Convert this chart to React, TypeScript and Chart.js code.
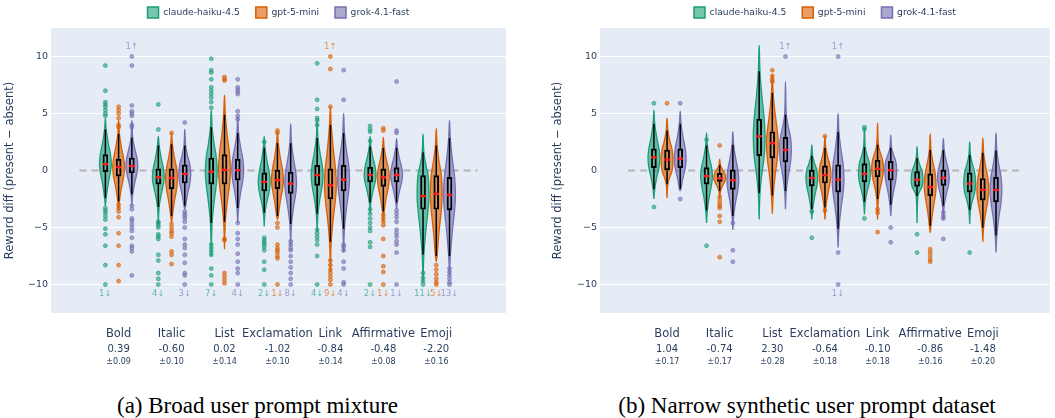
import React, { useEffect, useRef } from 'react';
import { Chart, registerables } from 'chart.js';

Chart.register(...registerables);
Chart.defaults.font.family = '"DejaVu Sans", sans-serif';

// ---------- data ----------
const categories = ['Bold', 'Italic', 'List', 'Exclamation', 'Link', 'Affirmative', 'Emoji'];
const models = ['claude-haiku-4.5', 'gpt-5-mini', 'grok-4.1-fast'];
const modelRGB = ['27,158,119', '217,95,2', '117,112,179'];
const yTicks = [-10, -5, 0, 5, 10];

const broadEffect = [0.39, -0.6, 0.02, -1.02, -0.84, -0.48, -2.2];
const broadSE = [0.09, 0.1, 0.14, 0.1, 0.14, 0.08, 0.16];
const narrowEffect = [1.04, -0.74, 2.3, -0.64, -0.1, -0.86, -1.48];
const narrowSE = [0.17, 0.17, 0.28, 0.18, 0.18, 0.16, 0.2];

// per category: [violin low, whisker low, q1, mean, q3, whisker high, violin high]
const broadClaude = [
  [-3.1, -2.4, -0.1, 0.55, 1.4, 3.6, 4.6],
  [-4.6, -3.2, -1.2, -0.6, 0.15, 2.2, 3.0],
  [-7.5, -4.6, -1.2, -0.1, 1.1, 3.8, 5.3],
  [-4.9, -3.7, -1.8, -1.0, -0.2, 2.0, 3.0],
  [-5.4, -3.8, -1.3, -0.4, 0.45, 2.85, 4.4],
  [-3.8, -2.8, -1.0, -0.4, 0.3, 2.1, 3.0],
  [-9.8, -7.4, -3.4, -2.25, -0.45, 1.6, 3.2],
];
const broadGpt = [
  [-3.5, -2.7, -0.5, 0.3, 1.0, 3.2, 4.4],
  [-4.6, -4.0, -1.6, -0.65, 0.15, 2.3, 3.3],
  [-6.9, -4.5, -1.2, 0.05, 1.4, 4.9, 6.6],
  [-4.3, -4.0, -1.6, -0.85, 0.03, 2.4, 3.4],
  [-8.9, -6.25, -2.5, -1.3, 0.15, 4.0, 5.55],
  [-4.5, -3.6, -1.4, -0.6, 0.15, 2.0, 2.9],
  [-8.0, -7.5, -3.4, -2.05, -0.45, 2.2, 3.7],
];
const broadGrok = [
  [-3.1, -2.1, -0.2, 0.4, 1.1, 2.9, 4.4],
  [-3.4, -3.1, -1.1, -0.3, 0.5, 2.2, 3.6],
  [-4.6, -3.3, -0.85, 0.03, 1.0, 3.3, 4.7],
  [-6.6, -4.7, -2.0, -1.15, -0.15, 2.4, 4.1],
  [-7.2, -5.1, -1.8, -0.8, 0.45, 3.3, 5.0],
  [-3.4, -2.8, -1.0, -0.4, 0.25, 2.0, 2.8],
  [-9.2, -7.5, -3.45, -2.15, -0.6, 2.85, 4.4],
];
const narrowClaude = [
  [-2.5, -1.65, 0.25, 1.15, 1.9, 4.1, 5.3],
  [-4.6, -3.5, -1.2, -0.5, 0.25, 2.2, 3.3],
  [-4.3, -2.0, 1.3, 3.0, 4.5, 8.7, 11.0],
  [-4.3, -3.4, -1.35, -0.65, 0.03, 1.3, 2.25],
  [-3.85, -2.75, -1.0, -0.3, 0.6, 2.05, 3.7],
  [-4.6, -2.25, -1.4, -0.8, -0.1, 1.1, 2.1],
  [-4.7, -3.45, -1.9, -1.15, -0.2, 1.35, 2.5],
];
const narrowGpt = [
  [-2.4, -1.2, 0.0, 0.95, 1.8, 3.5, 4.6],
  [-2.5, -1.8, -0.95, -0.7, -0.25, 0.45, 1.0],
  [-3.8, -2.2, 1.1, 2.4, 3.4, 6.8, 8.4],
  [-4.3, -3.25, -1.1, -0.4, 0.4, 2.0, 3.0],
  [-4.3, -2.5, -0.55, 0.15, 0.9, 2.25, 4.15],
  [-5.45, -4.85, -2.2, -1.45, -0.3, 1.8, 3.2],
  [-6.25, -5.0, -2.6, -1.7, -0.7, 1.55, 2.85],
];
const narrowGrok = [
  [-1.8, -1.6, 0.25, 1.05, 1.9, 4.1, 5.2],
  [-5.2, -4.0, -1.65, -0.85, 0.05, 2.25, 3.4],
  [-3.4, -1.8, 0.75, 1.8, 2.9, 4.9, 7.8],
  [-6.75, -5.1, -1.9, -0.8, 0.5, 3.4, 5.0],
  [-4.0, -3.0, -0.85, 0.03, 0.8, 2.0, 3.1],
  [-4.3, -3.1, -1.3, -0.65, 0.03, 1.8, 2.8],
  [-7.2, -5.7, -2.75, -1.7, -0.6, 1.75, 3.3],
];

// outlier points per category
const broadClaudeOut = [
  [9.2, 7.0, 6.0, 5.8, 5.6, 5.3, 5.0, 4.8, -3.3, -3.5, -3.7, -4.0, -4.3, -5.1, -5.6, -6.6, -8.3, -10],
  [5.8, 3.6, -4.5, -4.6, -4.8, -5.0, -5.6, -5.8, -6.0, -7.4, -7.9, -9.0, -9.5, -10],
  [9.8, 8.8, 8.6, 8.0, 7.3, 7.0, 6.7, 6.4, 6.0, 5.5, -6.5, -6.8, -7.1, -7.4, -8.6, -9.2, -10],
  [2.5, -5.9, -6.1, -6.3, -6.5, -6.7, -7.0, -8.0, -8.7, -10],
  [9.4, 6.2, 5.4, 4.6, 4.4, 4.0, -5.2, -5.5, -5.8, -6.1, -6.5, -7.5, -10],
  [3.9, 3.6, 3.4, 2.6, -3.4, -3.8, -4.2, -4.6, -5.0, -5.3, -6.3, -6.7, -10],
  [-9.0, -9.4, -9.7, -10],
];
const broadGptOut = [
  [5.6, 5.3, 5.0, 4.6, 4.0, 3.8, -3.0, -3.3, -3.6, -4.1, -5.5, -6.6, -8.3, -9.7],
  [3.3, -4.7, -5.0, -5.3, -5.5, -5.8, -7.1, -7.4, -8.2],
  [8.2, 8.0, 7.9, -6.0, -6.1, -9.0, -9.3, -9.6, -9.9],
  [3.5, 3.3, -4.6, -5.0, -6.5, -6.8, -7.0, -7.2, -7.5, -7.7, -10],
  [10, 8.9, 5.6, -7.9, -8.3, -8.7, -9.0, -9.3, -9.6, -10],
  [3.7, 3.5, -3.9, -4.2, -4.5, -4.8, -6.0, -7.5, -8.4, -8.9, -10],
  [-8.3, -8.7, -9.1, -9.5, -9.8, -10],
];
const broadGrokOut = [
  [10, 9.2, 5.7, 5.2, 5.0, 4.8, 4.0, 3.8, -3.1, -3.4, -4.2, -4.4, -4.7, -5.0, -5.3, -5.9, -6.6, -6.8, -7.1, -9.2],
  [4.2, -3.6, -3.8, -4.0, -4.2, -4.5, -5.0, -6.0, -6.5, -6.8, -7.4, -8.1, -9.0, -9.2, -10],
  [8.0, 7.3, 7.1, 6.9, 6.7, 5.2, 4.8, 4.5, -4.6, -5.5, -6.0, -6.5, -7.3, -8.0, -8.6, -9.0, -10],
  [-6.2, -6.5, -6.8, -7.0, -7.5, -8.0, -8.5, -9.0, -9.5, -10],
  [8.8, 6.2, -6.5, -6.7, -7.0, -8.0, -8.6, -9.8, -10],
  [7.8, 3.5, 3.3, -3.5, -3.8, -4.1, -4.5, -5.2, -5.5, -5.8, -6.2, -6.5, -7.2, -10],
  [-8.6, -8.9, -9.2, -9.5, -9.8, -10],
];
const narrowClaudeOut = [[5.9, -3.2], [2.7, -6.6], [], [-3.6, -5.9], [3.6, 3.8, -4.2], [-5.6, -7.2], [-7.2]];
const narrowGptOut = [
  [5.9],
  [2.2, -2.3, -2.6, -2.9, -3.1, -3.3, -4.0, -4.5, -7.6],
  [8.8, 8.3, 8.0, 7.8],
  [3.0, -3.5],
  [-3.4, -3.7, -5.4],
  [-6.9, -7.2, -7.5, -7.8, -8.0],
  [],
];
const narrowGrokOut = [[5.9, -2.5], [-4.6, -7.0, -8.0], [10], [10, -7.2, -10], [-5.0, -6.3], [-3.7, -4.0, -4.2, -6.0], []];

// counts of points beyond the axis range, per category: [claude, gpt, grok]
const broadBelow = [[1, 0, 0], [4, 0, 3], [7, 0, 4], [2, 1, 8], [4, 9, 4], [2, 1, 1], [11, 5, 13]];
const broadAbove = [[0, 0, 1], [0, 0, 0], [0, 0, 0], [0, 0, 0], [0, 1, 0], [0, 0, 0], [0, 0, 0]];
const narrowBelow = [[0, 0, 0], [0, 0, 0], [0, 0, 0], [0, 0, 1], [0, 0, 0], [0, 0, 0], [0, 0, 0]];
const narrowAbove = [[0, 0, 0], [0, 0, 0], [0, 0, 1], [0, 0, 1], [0, 0, 0], [0, 0, 0], [0, 0, 0]];

const captions = ['(a) Broad user prompt mixture', '(b) Narrow synthetic user prompt dataset'];

// ---------- styling ----------
const OFFSETS = [-0.25, 0, 0.25];
const HALF_W = 0.112;
// relative half-widths of the violin outline at: lo, wl, mid(wl,q1), q1, mean, q3, mid(q3,wh), wh, hi
const VIOLIN_REL = [0, 0.14, 0.45, 0.86, 1, 0.86, 0.45, 0.14, 0];
const TEXT = '#2a3f5f';
const rgba = (i: number, a: number) => `rgba(${modelRGB[i]},${a})`;

function violinPoints(s: number[], c: number) {
  const [lo, wl, q1, mean, q3, wh, hi] = s;
  const levels = [lo, wl, (wl + q1) / 2, q1, mean, q3, (q3 + wh) / 2, wh, hi];
  const left = levels.map((y, i) => ({ x: c - HALF_W * VIOLIN_REL[i], y }));
  const right: { x: number; y: number }[] = [];
  for (let i = levels.length - 2; i >= 0; i--) right.push({ x: c + HALF_W * VIOLIN_REL[i], y: levels[i] });
  return [...left, ...right];
}

const bgPlugin = {
  id: 'plotBg',
  beforeDraw(chart: any) {
    const { ctx, chartArea: a } = chart;
    ctx.save();
    ctx.fillStyle = '#E5ECF6';
    ctx.fillRect(a.left, a.top, a.right - a.left, a.bottom - a.top);
    ctx.restore();
  },
  afterLayout(chart: any) {
    const lg = chart.legend;
    if (lg) {
      lg.left = chart.chartArea.left;
      lg.right = chart.chartArea.right;
    }
  },
};

const annotPlugin = {
  id: 'annot',
  afterDatasetsDraw(chart: any, _a: any, opts: any) {
    const { ctx, scales } = chart;
    const x = scales.x;
    const y = scales.y;
    ctx.save();
    ctx.font = '8.5px "DejaVu Sans"';
    ctx.textAlign = 'center';
    ctx.textBaseline = 'middle';
    categories.forEach((_c, ci) => {
      for (let mi = 0; mi < 3; mi++) {
        const px = x.getPixelForValue(ci + OFFSETS[mi]);
        ctx.fillStyle = rgba(mi, 0.65);
        const nb = opts.below[ci][mi];
        const na = opts.above[ci][mi];
        if (nb > 0) ctx.fillText(`${nb}↓`, px, y.getPixelForValue(-10.78));
        if (na > 0) ctx.fillText(`${na}↑`, px, y.getPixelForValue(10.85));
      }
    });
    ctx.restore();
  },
};

const catPlugin = {
  id: 'catLabels',
  afterDraw(chart: any, _a: any, opts: any) {
    const { ctx, chartArea, scales } = chart;
    const x = scales.x;
    ctx.save();
    ctx.fillStyle = TEXT;
    ctx.textAlign = 'center';
    ctx.textBaseline = 'middle';
    categories.forEach((c, i) => {
      const px = x.getPixelForValue(i);
      ctx.font = '11.5px "DejaVu Sans"';
      ctx.fillText(c, px, chartArea.bottom + 21);
      ctx.font = '10px "DejaVu Sans"';
      ctx.fillText(opts.effect[i].toFixed(2), px, chartArea.bottom + 36);
      ctx.font = '8px "DejaVu Sans"';
      ctx.fillText('±' + opts.se[i].toFixed(2), px, chartArea.bottom + 49);
    });
    ctx.restore();
  },
};

function buildConfig(p: any) {
  const stats = p.stats as number[][][];
  const outs = p.outs as number[][][];
  const datasets: any[] = [];
  models.forEach((m, mi) => {
    datasets.push({
      type: 'scatter',
      label: m,
      order: 0,
      data: outs[mi].flatMap((vals, ci) => vals.map((v) => ({ x: ci + OFFSETS[mi], y: v }))),
      pointRadius: 2,
      pointHoverRadius: 2,
      backgroundColor: rgba(mi, 0.6),
      borderColor: rgba(mi, 0.95),
      borderWidth: 0.6,
    });
  });
  const means: any[] = [];
  const boxes: any[] = [];
  const whiskers: any[] = [];
  stats.forEach((ms, mi) =>
    ms.forEach((s, ci) => {
      const c = ci + OFFSETS[mi];
      means.push({ x: c, y: s[3] });
      boxes.push({ x: c, y: [s[2], s[4]] });
      whiskers.push({ x: c, y: s[1] }, { x: c, y: s[2] }, { x: c, y: null }, { x: c, y: s[4] }, { x: c, y: s[5] }, { x: c, y: null });
    })
  );
  datasets.push({
    type: 'scatter',
    label: 'mean',
    order: 1,
    data: means,
    pointStyle: 'line',
    pointRadius: 2.7,
    pointHoverRadius: 2.7,
    borderColor: '#ff1a1a',
    borderWidth: 2.4,
  });
  datasets.push({
    type: 'bar',
    label: 'IQR',
    order: 2,
    data: boxes,
    barThickness: 5,
    borderColor: '#000',
    borderWidth: 1.3,
    borderSkipped: false,
    backgroundColor: 'rgba(0,0,0,0)',
  });
  datasets.push({
    type: 'line',
    label: 'whiskers',
    order: 3,
    data: whiskers,
    borderColor: '#000',
    borderWidth: 1.5,
    pointRadius: 0,
    spanGaps: false,
    fill: false,
    tension: 0,
  });
  stats.forEach((ms, mi) =>
    ms.forEach((s, ci) => {
      datasets.push({
        type: 'line',
        label: `${models[mi]} ${categories[ci]}`,
        order: 4,
        data: violinPoints(s, ci + OFFSETS[mi]),
        borderColor: rgba(mi, 1),
        borderWidth: 1.3,
        backgroundColor: rgba(mi, 0.62),
        fill: 'shape',
        tension: 0.4,
        pointRadius: 0,
      });
    })
  );
  datasets.push({
    type: 'line',
    label: 'zero',
    order: 5,
    data: [{ x: p.xMin, y: 0 }, { x: p.xMax, y: 0 }],
    borderColor: 'rgba(175,175,175,0.9)',
    borderWidth: 2,
    borderDash: [7, 5],
    pointRadius: 0,
    fill: false,
  });

  return {
    type: 'line',
    data: { datasets },
    plugins: [bgPlugin, annotPlugin, catPlugin],
    options: {
      responsive: false,
      animation: false,
      events: [],
      layout: { padding: { top: -9, right: p.padRight, bottom: 67, left: 0 } },
      scales: {
        x: { type: 'linear', min: p.xMin, max: p.xMax, display: false },
        y: {
          type: 'linear',
          min: -12.5,
          max: 12.5,
          afterBuildTicks: (s: any) => {
            s.ticks = yTicks.map((v) => ({ value: v }));
          },
          afterFit: (s: any) => {
            s.width = p.yWidth;
          },
          ticks: {
            color: TEXT,
            font: { size: 9.5 },
            padding: 3,
            callback: (v: any) => (v < 0 ? '−' + Math.abs(v) : String(v)),
          },
          grid: {
            color: (ctx: any) => (ctx.tick && ctx.tick.value === 0 ? 'rgba(0,0,0,0)' : '#ffffff'),
            lineWidth: 1,
            drawTicks: false,
          },
          border: { display: false },
          title: {
            display: true,
            text: 'Reward diff (present − absent)',
            color: TEXT,
            font: { size: 11.5 },
            padding: { top: p.titlePad, bottom: 0 },
          },
        },
      },
      plugins: {
        legend: {
          display: true,
          position: 'top',
          align: 'center',
          labels: {
            boxWidth: 11,
            boxHeight: 11,
            padding: 16,
            color: TEXT,
            font: { size: 9.2 },
            generateLabels: () =>
              models.map((m, i) => ({
                text: m,
                fillStyle: rgba(i, 0.6),
                strokeStyle: rgba(i, 1),
                lineWidth: 1.5,
                hidden: false,
                datasetIndex: i,
                fontColor: TEXT,
              })),
          },
        },
        tooltip: { enabled: false },
        annot: { below: p.below, above: p.above },
        catLabels: { effect: p.effect, se: p.se },
      },
    },
  };
}

const panels = [
  {
    left: 0,
    width: 530,
    xMin: -0.74,
    xMax: 6.78,
    padRight: 24,
    yWidth: 51,
    titlePad: 3,
    stats: [broadClaude, broadGpt, broadGrok],
    outs: [broadClaudeOut, broadGptOut, broadGrokOut],
    below: broadBelow,
    above: broadAbove,
    effect: broadEffect,
    se: broadSE,
  },
  {
    left: 530,
    width: 525,
    xMin: -0.74,
    xMax: 6.74,
    padRight: 0,
    yWidth: 70,
    titlePad: 21.5,
    stats: [narrowClaude, narrowGpt, narrowGrok],
    outs: [narrowClaudeOut, narrowGptOut, narrowGrokOut],
    below: narrowBelow,
    above: narrowAbove,
    effect: narrowEffect,
    se: narrowSE,
  },
];

function Panel({ p }: { p: any }) {
  const ref = useRef<HTMLCanvasElement>(null);
  useEffect(() => {
    const chart = new Chart(ref.current as HTMLCanvasElement, buildConfig(p) as any);
    return () => chart.destroy();
  }, []);
  return (
    <canvas
      ref={ref}
      width={p.width}
      height={380}
      style={{ position: 'absolute', left: p.left, top: 0, width: p.width, height: 380 }}
    />
  );
}

export default function App() {
  return (
    <div style={{ position: 'absolute', left: 0, top: 0, width: 1055, height: 418, background: '#fff', overflow: 'hidden' }}>
      {panels.map((p, i) => (
        <Panel key={i} p={p} />
      ))}
      <div
        style={{
          position: 'absolute',
          left: 0,
          width: 515,
          top: 392,
          textAlign: 'center',
          font: '23px "Liberation Serif", serif',
          lineHeight: '28px',
          color: '#000',
        }}
      >
        {captions[0]}
      </div>
      <div
        style={{
          position: 'absolute',
          left: 560,
          width: 494,
          top: 392,
          textAlign: 'center',
          font: '23px "Liberation Serif", serif',
          lineHeight: '28px',
          color: '#000',
        }}
      >
        {captions[1]}
      </div>
    </div>
  );
}
